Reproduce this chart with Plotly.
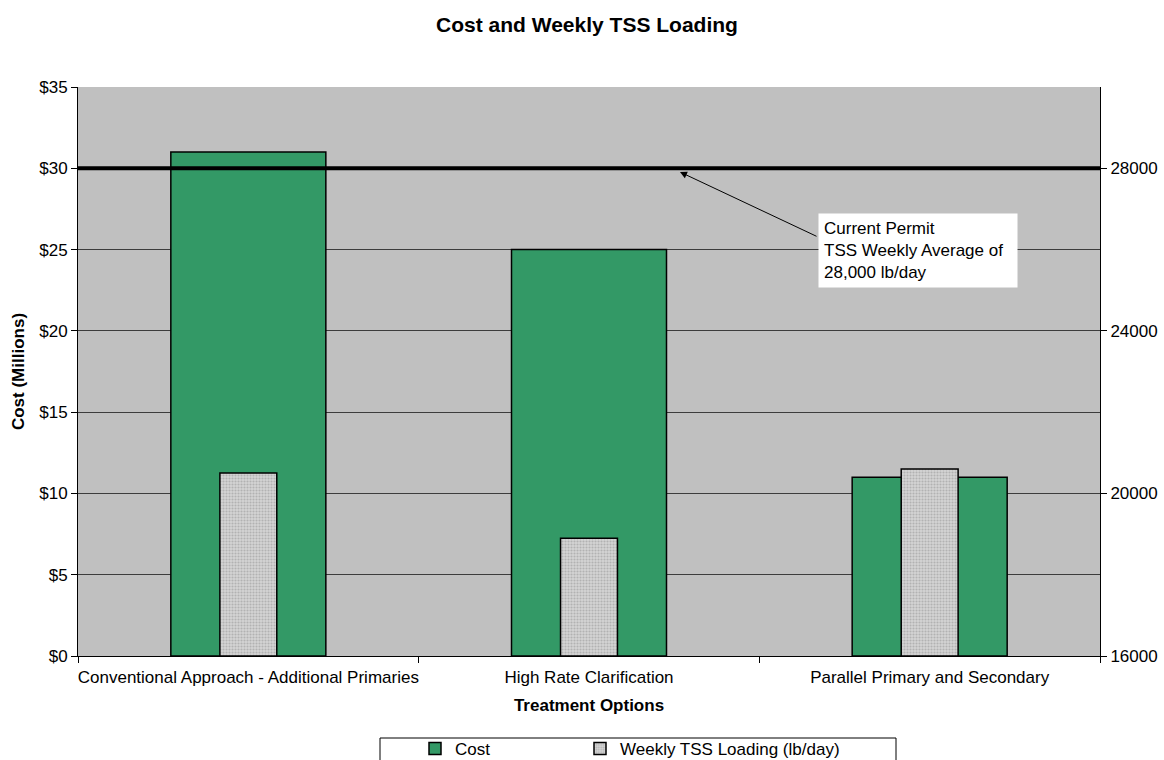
import plotly.graph_objects as go

categories = ["Conventional Approach - Additional Primaries",
              "High Rate Clarification",
              "Parallel Primary and Secondary"]
cost_millions = [31, 25, 11]
tss_loading = [20500, 18900, 20600]
permit_tss = 28000
cost_ticks = [0, 5, 10, 15, 20, 25, 30, 35]
cost_tick_labels = ["$" + str(v) for v in cost_ticks]
tss_ticks = [16000, 20000, 24000, 28000]
tss_base = 16000

FONT = "Liberation Sans, Arial, sans-serif"
GREEN = "#339966"
FS = 17

# Target plot area in page pixels (body margin removed by post_script)
PL, PT, PR, PB = 78, 87, 1100, 656
W, H = 1164, 760
L, T = PL, PT
R, B = W - PR, H - PB
PW, PH = PR - PL, PB - PT


def px(xp):
    return (xp - PL) / PW


def py(yp):
    return (PB - yp) / PH


fig = go.Figure()
fig.add_trace(go.Bar(
    x=categories, y=cost_millions, name="Cost", yaxis="y", legend="legend",
    width=0.455, marker=dict(color=GREEN, line=dict(color="black", width=1.5)),
))
fig.add_trace(go.Bar(
    x=categories, y=[v - tss_base for v in tss_loading], base=tss_base,
    name="Weekly TSS Loading (lb/day)", yaxis="y2", legend="legend2",
    width=0.167,
    marker=dict(color="#cccccc", line=dict(color="black", width=1.5),
                pattern=dict(shape=".", fgcolor="#8f8f8f", bgcolor="#d4d4d4",
                             size=3, solidity=0.4)),
))

legend_common = dict(orientation="h", yanchor="top", xanchor="left",
                     font=dict(size=FS), bgcolor="rgba(0,0,0,0)", itemwidth=30)

fig.update_layout(
    width=W, height=H,
    margin=dict(l=L, r=R, t=T, b=B, autoexpand=False),
    paper_bgcolor="white", plot_bgcolor="#c0c0c0",
    barmode="overlay",
    font=dict(family=FONT, size=FS, color="black"),
    title=dict(text="<b>Cost and Weekly TSS Loading</b>", x=587 / W, xref="container",
               xanchor="center", y=1 - 25 / H, yanchor="middle",
               font=dict(size=21, family=FONT)),
    xaxis=dict(
        title=dict(text="<b>Treatment Options</b>", font=dict(size=FS), standoff=12),
        showline=True, linecolor="black", linewidth=1, tickangle=0,
        ticks="outside", tickson="boundaries", ticklen=6, tickcolor="black",
        ticklabelstandoff=6,
        tickfont=dict(size=FS), showgrid=False, automargin=False,
    ),
    yaxis=dict(
        title=dict(text="<b>Cost (Millions)</b>", font=dict(size=FS), standoff=10),
        range=[0, 35], tickmode="array", tickvals=cost_ticks, ticktext=cost_tick_labels,
        showline=True, linecolor="black", linewidth=1,
        ticks="outside", ticklen=6, tickcolor="black",
        showgrid=True, gridcolor="#3c3c3c", gridwidth=1, zeroline=False,
        tickfont=dict(size=FS), automargin=False,
    ),
    yaxis2=dict(
        overlaying="y", side="right", range=[16000, 30000],
        tickmode="array", tickvals=tss_ticks, tickformat="d",
        showline=True, linecolor="black", linewidth=1,
        ticks="outside", ticklen=6, tickcolor="black",
        showgrid=False, zeroline=False, tickfont=dict(size=FS), automargin=False,
    ),
    showlegend=True,
    legend=dict(x=px(415), y=py(731), **legend_common),
    legend2=dict(x=px(580), y=py(731), **legend_common),
    shapes=[
        dict(type="line", xref="paper", x0=0, x1=1, yref="y2", y0=permit_tss, y1=permit_tss,
             line=dict(color="black", width=4)),
        dict(type="rect", xref="paper", yref="paper",
             x0=px(380), x1=px(896), y0=py(738), y1=py(800),
             line=dict(color="black", width=1), fillcolor="rgba(0,0,0,0)", layer="above"),
    ],
    annotations=[
        dict(xref="paper", yref="paper", x=px(818), y=py(213),
             xanchor="left", yanchor="top", align="left", showarrow=False,
             text="Current Permit<br>TSS Weekly Average of&nbsp;&nbsp;<br>28,000 lb/day",
             bgcolor="white", borderpad=5, font=dict(size=FS)),
        dict(xref="paper", yref="paper", x=px(680), y=py(172),
             text="", showarrow=True, ax=138, ay=65, axref="pixel", ayref="pixel",
             arrowhead=2, arrowsize=1.4, arrowwidth=1, arrowcolor="black", standoff=0,
             startstandoff=0),
    ],
)

fig.write_html("out.html", config={"displayModeBar": False},
               post_script="document.body.style.margin='0';document.body.style.overflow='hidden';")
